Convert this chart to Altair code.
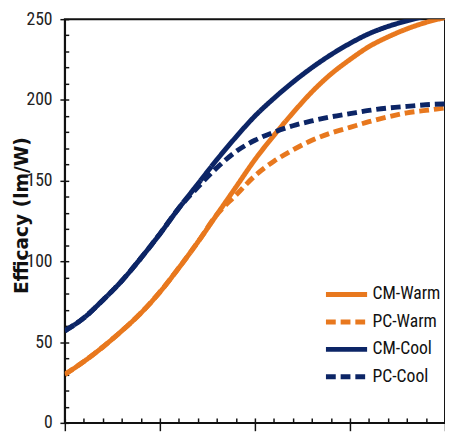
import altair as alt
import pandas as pd

# x positions (unitless index along the horizontal axis, no tick labels shown)
x_vals = list(range(0, 21))

cm_warm = [30, 38, 47, 57, 68, 81, 96, 112, 129, 146, 163, 178, 192, 205, 216, 225, 233, 239, 244, 248, 251]
pc_warm = [30, 38, 47, 57, 68, 81, 96, 112, 129, 141, 153, 162, 169, 175, 179.5, 183, 186.5, 189.5, 192, 193.5, 195]
cm_cool = [57, 65, 76, 88, 102, 117, 133, 148, 163, 177, 190, 201, 211, 220, 228, 235, 241, 245.5, 249, 252, 255]
pc_cool = [57, 65, 76, 88, 102, 117, 133, 146, 158, 168, 175, 180, 184, 187, 189.5, 191.5, 193.5, 195, 196, 197, 197.5]

series_names = ["CM-Warm", "PC-Warm", "CM-Cool", "PC-Cool"]
series_colors = ["#E8781E", "#E8781E", "#0C2566", "#0C2566"]
series_dashes = [[1, 0], [10, 5], [1, 0], [10, 5]]

y_major = [0, 50, 100, 150, 200, 250]
y_minor = [v for v in range(0, 251, 10)]
x_major = [0, 5, 10, 15, 20]
x_minor = list(range(0, 21))

rows = []
for name, vals in zip(series_names, [cm_warm, pc_warm, cm_cool, pc_cool]):
    for xv, yv in zip(x_vals, vals):
        rows.append({"x": xv, "value": yv, "series": name})
df = pd.DataFrame(rows)

NARROW = "Liberation Sans Narrow, Roboto Condensed, DejaVu Sans Condensed, sans-serif"

xscale = alt.Scale(domain=[0, 20], nice=False, zero=False)
yscale = alt.Scale(domain=[0, 250], nice=False)

legend_kw = dict(title=None, orient="none", legendX=264, legendY=268,
                 symbolType="M-1,0H3", symbolSize=441, symbolStrokeWidth=5,
                 labelFont=NARROW, labelFontSize=18, labelColor="#111",
                 labelOffset=24, rowPadding=5)

lines = alt.Chart(df).mark_line(strokeWidth=5, clip=True, interpolate="monotone").encode(
    x=alt.X("x:Q", scale=xscale, title=None,
            axis=alt.Axis(orient="bottom", values=x_major, labels=False, tickSize=8,
                          tickWidth=1.5, tickColor="#111", domainColor="#111",
                          domainWidth=1.5, grid=False)),
    y=alt.Y("value:Q", scale=yscale, title="Efficacy (lm/W)",
            axis=alt.Axis(orient="left", values=y_major, tickSize=5, tickWidth=1.5,
                          tickColor="#111", domainColor="#111", domainWidth=1.5,
                          labelFont=NARROW, labelFontSize=18, labelColor="#222",
                          labelPadding=8, grid=False,
                          titleFont="DejaVu Sans", titleFontWeight="bold",
                          titleFontSize=19, titleColor="#111",
                          titleX=-44, titleY=200, titleAngle=270,
                          titleAlign="center", titleBaseline="middle")),
    color=alt.Color("series:N",
                    scale=alt.Scale(domain=series_names, range=series_colors),
                    legend=alt.Legend(**legend_kw)),
    strokeDash=alt.StrokeDash("series:N",
                              scale=alt.Scale(domain=series_names, range=series_dashes),
                              legend=alt.Legend(**legend_kw)),
    detail="series:N",
)

minor = alt.Chart(df).mark_point(opacity=0).encode(
    x=alt.X("x:Q", scale=xscale, title=None,
            axis=alt.Axis(orient="bottom", values=x_minor, labels=False, tickSize=5,
                          offset=-5, tickWidth=1.5, tickColor="#111", domain=False,
                          grid=False)),
    y=alt.Y("value:Q", scale=yscale, title=None,
            axis=alt.Axis(orient="left", values=y_minor, labels=False, tickSize=4,
                          offset=-4, tickWidth=1.5, tickColor="#111", domain=False,
                          grid=False)),
)

chart = alt.layer(lines, minor).resolve_axis(x="independent", y="independent").properties(
    width=388, height=412,
    autosize=alt.AutoSizeParams(type="none"),
    padding={"left": 58, "top": 7, "right": 0, "bottom": 9},
    background="white",
).configure_view(stroke="#111", strokeWidth=2)

chart.save("out.html", embed_options={"renderer": "svg", "actions": False})
